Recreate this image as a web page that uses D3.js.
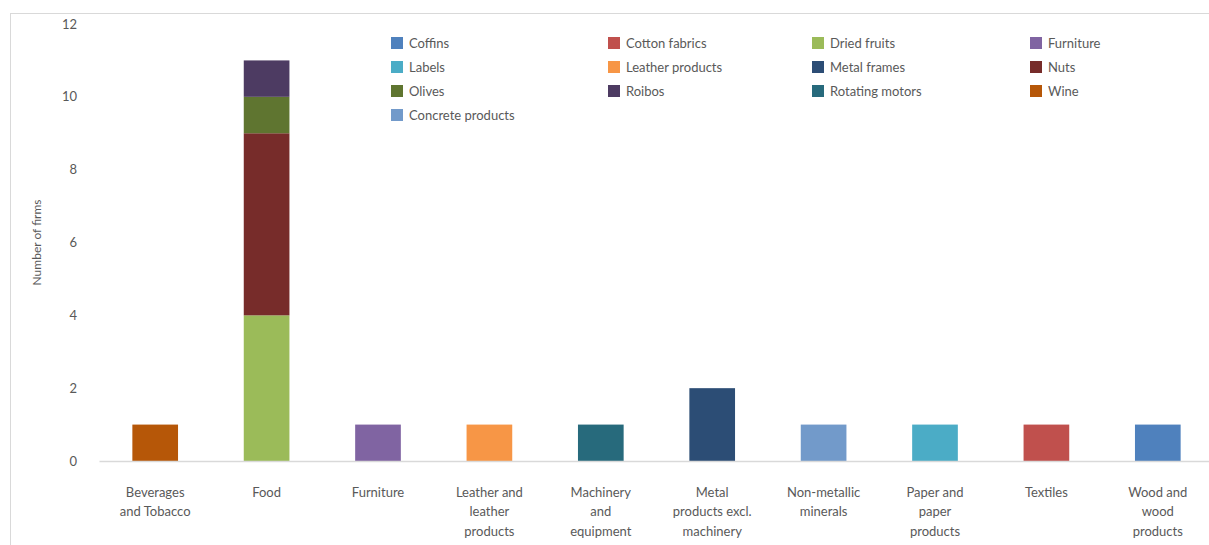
<!DOCTYPE html>
<html>
<head>
<meta charset="utf-8">
<script src="https://cdn.jsdelivr.net/npm/d3@7"></script>
<style>
  body { margin: 0; background: #fff; }
  svg { display: block; font-family: Lato, "Open Sans", sans-serif; }
</style>
</head>
<body>
<svg class="main-svg" width="1209" height="545"></svg>
<script>
var sectors = ['Beverages and Tobacco', 'Food', 'Furniture', 'Leather and leather products',
  'Machinery and equipment', 'Metal products excl. machinery', 'Non-metallic minerals',
  'Paper and paper products', 'Textiles', 'Wood and wood products'];

// wrapped as in the picture
var sectorLines = [
  ['Beverages', 'and Tobacco'], ['Food'], ['Furniture'], ['Leather and', 'leather', 'products'],
  ['Machinery', 'and', 'equipment'], ['Metal', 'products excl.', 'machinery'], ['Non-metallic', 'minerals'],
  ['Paper and', 'paper', 'products'], ['Textiles'], ['Wood and', 'wood', 'products']];

var products = ['Coffins', 'Cotton fabrics', 'Dried fruits', 'Furniture', 'Labels', 'Leather products',
  'Metal frames', 'Nuts', 'Olives', 'Roibos', 'Rotating motors', 'Wine', 'Concrete products'];

var productColours = ['#4f81bd', '#c0504d', '#9bbb59', '#8064a2', '#4bacc6', '#f79646',
  '#2c4d75', '#772c2a', '#5f7530', '#4d3b62', '#276a7c', '#b65708', '#729aca'];

// number of firms per sector, by product
var coffins         = [0, 0, 0, 0, 0, 0, 0, 0, 0, 1];
var cottonFabrics   = [0, 0, 0, 0, 0, 0, 0, 0, 1, 0];
var driedFruits     = [0, 4, 0, 0, 0, 0, 0, 0, 0, 0];
var furniture       = [0, 0, 1, 0, 0, 0, 0, 0, 0, 0];
var labels          = [0, 0, 0, 0, 0, 0, 0, 1, 0, 0];
var leatherProducts = [0, 0, 0, 1, 0, 0, 0, 0, 0, 0];
var metalFrames     = [0, 0, 0, 0, 0, 2, 0, 0, 0, 0];
var nuts            = [0, 5, 0, 0, 0, 0, 0, 0, 0, 0];
var olives          = [0, 1, 0, 0, 0, 0, 0, 0, 0, 0];
var roibos          = [0, 1, 0, 0, 0, 0, 0, 0, 0, 0];
var rotatingMotors  = [0, 0, 0, 0, 1, 0, 0, 0, 0, 0];
var wine            = [1, 0, 0, 0, 0, 0, 0, 0, 0, 0];
var concrete        = [0, 0, 0, 0, 0, 0, 1, 0, 0, 0];

var seriesValues = [coffins, cottonFabrics, driedFruits, furniture, labels, leatherProducts,
  metalFrames, nuts, olives, roibos, rotatingMotors, wine, concrete];

var yTicks = [0, 2, 4, 6, 8, 10, 12];

// stack order bottom -> top in the Food bar: Dried fruits, Nuts, Olives, Roibos (legend order)
var rows = sectors.map(function (s, i) {
  var r = { sector: s };
  products.forEach(function (p, j) { r[p] = seriesValues[j][i]; });
  return r;
});
var stacked = d3.stack().keys(products)(rows);

var textColour = '#595959',
    axisColour = '#d9d9d9';

var svg = d3.select('.main-svg');

// chart area border
svg.append('rect')
  .attr('x', 10.5).attr('y', 13.5)
  .attr('width', 1220).attr('height', 560)
  .attr('fill', 'none')
  .attr('stroke', '#d9d9d9');

var x = d3.scaleBand()
  .domain(sectors)
  .range([99.5, 1213.5])
  .paddingInner(0.59)
  .paddingOuter(0.295);

var y = d3.scaleLinear()
  .domain([0, 12])
  .range([461, 24]);

// y axis labels
svg.append('g')
  .selectAll('text')
  .data(yTicks)
  .enter()
  .append('text')
  .attr('x', 77)
  .attr('y', d => y(d))
  .attr('dy', '0.35em')
  .attr('text-anchor', 'end')
  .attr('font-size', 13)
  .attr('fill', textColour)
  .text(d => d);

svg.append('text')
  .attr('transform', 'translate(37,' + y(6) + ') rotate(-90)')
  .attr('text-anchor', 'middle')
  .attr('dy', '0.35em')
  .attr('font-size', 12)
  .attr('fill', textColour)
  .text('Number of firms');

// bars
svg.append('g')
  .selectAll('g')
  .data(stacked)
  .enter()
  .append('g')
  .attr('fill', (d, i) => productColours[i])
  .selectAll('rect')
  .data(d => d.filter(v => v[1] > v[0]).map(v => ({ v: v, sector: v.data.sector })))
  .enter()
  .append('rect')
  .attr('x', d => x(d.sector))
  .attr('width', x.bandwidth())
  .attr('y', d => y(d.v[1]))
  .attr('height', d => y(d.v[0]) - y(d.v[1]));

// baseline
svg.append('line')
  .attr('x1', 99.5).attr('x2', 1209)
  .attr('y1', y(0) + 0.5).attr('y2', y(0) + 0.5)
  .attr('stroke', axisColour)
  .attr('stroke-width', 1.5);

// x labels
var xl = svg.append('g')
  .selectAll('text')
  .data(sectors)
  .enter()
  .append('text')
  .attr('x', d => x(d) + x.bandwidth() / 2)
  .attr('y', 492)
  .attr('text-anchor', 'middle')
  .attr('font-size', 13)
  .attr('fill', textColour);

xl.selectAll('tspan')
  .data((d, i) => sectorLines[i])
  .enter()
  .append('tspan')
  .attr('x', function () { return d3.select(this.parentNode).attr('x'); })
  .attr('dy', (d, i) => i === 0 ? '0.35em' : 19.5)
  .text(d => d);

// legend, 4 columns
var legendCols = [391, 608, 812, 1030],
    legendTop = 43,
    legendRow = 24;

var legend = svg.append('g')
  .selectAll('g')
  .data(products)
  .enter()
  .append('g')
  .attr('transform', (d, i) => 'translate(' + legendCols[i % 4] + ',' + (legendTop + Math.floor(i / 4) * legendRow) + ')');

legend.append('rect')
  .attr('x', 0).attr('y', -6)
  .attr('width', 12).attr('height', 12)
  .attr('fill', (d, i) => productColours[i]);

legend.append('text')
  .attr('x', 18)
  .attr('dy', '0.35em')
  .attr('font-size', 13)
  .attr('fill', textColour)
  .text(d => d);
</script>
</body>
</html>
